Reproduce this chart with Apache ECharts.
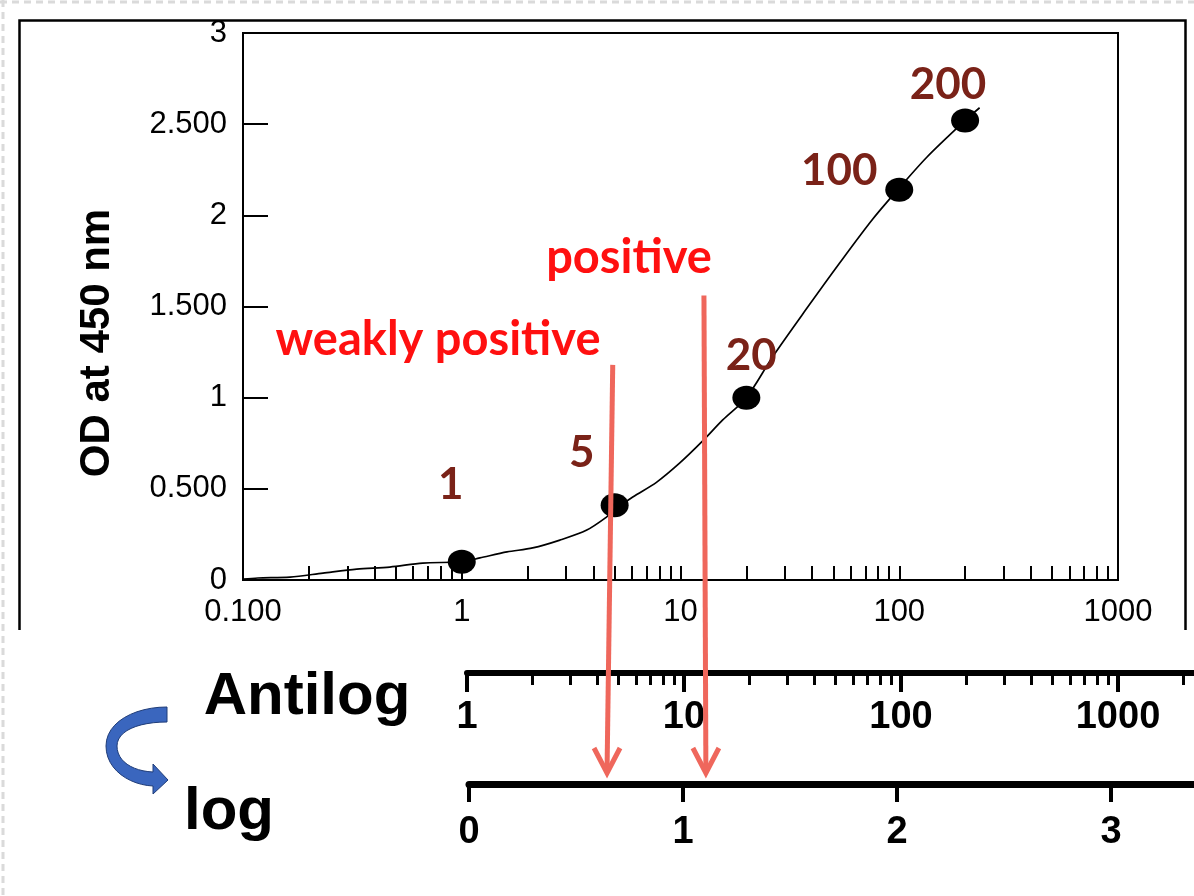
<!DOCTYPE html>
<html>
<head>
<meta charset="utf-8">
<script src="https://cdn.jsdelivr.net/npm/echarts@6/dist/echarts.min.js"></script>
<style>
  html, body { margin: 0; padding: 0; background: #fff; }
  #chart { width: 1194px; height: 896px; }
</style>
</head>
<body>
<div id="chart"></div>
<script>
// Standards: dilution (x) against optical density at 450 nm (y)
const pointDilutions = [1, 5, 20, 100, 200];
const pointOD = [0.1, 0.41, 1.0, 2.14, 2.52];

// Fitted curve through the standards
const curveDilutions = [0.1, 0.117, 0.164, 0.232, 0.331, 0.469, 0.663, 1.0, 1.21, 1.61, 2.11, 2.81, 3.73, 4.6, 5, 6.05, 7.79, 9.93, 12.5, 15.6, 20, 26.4, 37.8, 53.5, 75.7, 100, 134, 200, 233];
const curveOD = [0.005, 0.011, 0.016, 0.038, 0.060, 0.071, 0.093, 0.10, 0.121, 0.154, 0.176, 0.219, 0.274, 0.346, 0.385, 0.455, 0.537, 0.642, 0.757, 0.878, 1.0, 1.225, 1.49, 1.74, 1.98, 2.15, 2.32, 2.52, 2.59];

// Tick labels
const yTickLabels = ['0', '0.500', '1', '1.500', '2', '2.500', '3'];
const xTickLabels = ['0.100', '1', '10', '100', '1000'];
const antilogTickLabels = ['1', '10', '100', '1000', '10000'];
const logTickLabels = ['0', '1', '2', '3', '4'];

// Cut-offs carried down from the curve onto the log scale
const cutoffNames = ['weakly positive', 'positive'];
const cutoffDilutions = [4.9, 12.8];
const cutoffOD = [1.18, 1.56];
const cutoffLogs = [0.645, 1.107];

// Tick positions of a log scale expressed as log10 values
function logTickPositions(decades, multipliers) {
  const out = [];
  decades.forEach(d => multipliers.forEach(m => out.push(Math.log10(d * m))));
  return out;
}
const mainTicks = logTickPositions([0.1, 1, 10, 100], [1, 2, 3, 4, 5, 6, 7, 8, 9]).concat([3]);
const antilogMinorTicks = logTickPositions([1, 10, 100, 1000], [2, 3, 4, 5, 6, 7, 8, 9]);

const labelOffsets = [[-11, -77], [-33, -52], [5, -42], [-60, -19], [-17, -36]];

const AXIS_FONT = 'Liberation Sans, Arial, sans-serif';
const NOTE_FONT = 'Lato, Open Sans, sans-serif';

// Sample a cubic Bezier into points (for the curved blue arrow outline)
function cubic(p0, p1, p2, p3, n) {
  const pts = [];
  for (let k = 0; k <= n; k++) {
    const t = k / n, u = 1 - t;
    pts.push([
      u * u * u * p0[0] + 3 * u * u * t * p1[0] + 3 * u * t * t * p2[0] + t * t * t * p3[0],
      u * u * u * p0[1] + 3 * u * u * t * p1[1] + 3 * u * t * t * p2[1] + t * t * t * p3[1]
    ]);
  }
  return pts;
}
const turnArrowPoints = []
  .concat(cubic([167, 707], [135, 707], [106, 722], [106, 746], 12))
  .concat(cubic([106, 746], [106, 770], [130, 785], [153, 786], 12))
  .concat([[153, 794], [168, 780], [153, 764], [153, 772]])
  .concat(cubic([153, 772], [132, 771], [117, 761], [117, 746], 12))
  .concat(cubic([117, 746], [117, 731], [138, 722], [167, 722], 12));

const chart = echarts.init(document.getElementById('chart'), null, { renderer: 'canvas' });

const noLine = { show: false, onZero: false };

const option = {
  backgroundColor: '#ffffff',
  animation: false,
  grid: [
    { left: 243, top: 33, width: 875, height: 547, show: true, borderColor: '#000', borderWidth: 2, backgroundColor: 'transparent', containLabel: false, outerBoundsMode: 'none' },
    { left: 467, top: 673, width: 868, height: 60, containLabel: false, outerBoundsMode: 'none' },
    { left: 469, top: 784, width: 856, height: 60, containLabel: false, outerBoundsMode: 'none' }
  ],
  xAxis: [
    // data axis of the standard curve
    { type: 'log', logBase: 10, min: 0.1, max: 1000, gridIndex: 0, show: false, axisLine: noLine },
    // ticks and labels of the standard curve, in log10 units
    {
      type: 'value', min: -1, max: 3, interval: 1, gridIndex: 0, position: 'bottom',
      axisLine: { show: true, onZero: false, lineStyle: { color: '#000', width: 2 } },
      axisTick: { show: true, inside: true, length: 14, lineStyle: { color: '#000', width: 2 }, customValues: mainTicks },
      axisLabel: {
        show: true, margin: 17, color: '#000', fontSize: 31, fontFamily: AXIS_FONT,
        formatter: v => xTickLabels[Math.round(v) + 1]
      },
      splitLine: { show: false }
    },
    // Antilog scale
    {
      type: 'log', logBase: 10, min: 1, max: 10000, gridIndex: 1, position: 'top',
      axisLine: { show: true, onZero: false, lineStyle: { color: '#000', width: 6 } },
      axisTick: { show: true, inside: true, length: 19, lineStyle: { color: '#000', width: 4 } },
      axisLabel: {
        show: true, inside: true, margin: 26, color: '#000', fontSize: 38, fontWeight: 'bold', fontFamily: AXIS_FONT,
        formatter: v => antilogTickLabels[Math.round(Math.log10(v))]
      },
      splitLine: { show: false }
    },
    // minor ticks of the Antilog scale
    {
      type: 'value', min: 0, max: 4, gridIndex: 1, position: 'top',
      axisLine: noLine,
      axisTick: { show: true, inside: true, length: 12, lineStyle: { color: '#000', width: 3 }, customValues: antilogMinorTicks },
      axisLabel: { show: false },
      splitLine: { show: false }
    },
    // log scale
    {
      type: 'value', min: 0, max: 4, interval: 1, gridIndex: 2, position: 'top',
      axisLine: { show: true, onZero: false, lineStyle: { color: '#000', width: 7 } },
      axisTick: { show: true, inside: true, length: 18, lineStyle: { color: '#000', width: 4 } },
      axisLabel: {
        show: true, inside: true, margin: 30, color: '#000', fontSize: 38, fontWeight: 'bold', fontFamily: AXIS_FONT,
        formatter: v => logTickLabels[Math.round(v)]
      },
      splitLine: { show: false }
    }
  ],
  yAxis: [
    {
      type: 'value', min: 0, max: 3, interval: 0.5, gridIndex: 0,
      axisLine: { show: true, onZero: false, lineStyle: { color: '#000', width: 2 } },
      axisTick: { show: true, inside: true, length: 25, lineStyle: { color: '#000', width: 2 } },
      axisLabel: {
        show: true, margin: 16, color: '#000', fontSize: 31, fontFamily: AXIS_FONT,
        formatter: v => yTickLabels[Math.round(v * 2)]
      },
      splitLine: { show: false }
    },
    { type: 'value', min: 0, max: 1, gridIndex: 1, show: false, axisLine: noLine },
    { type: 'value', min: 0, max: 1, gridIndex: 2, show: false, inverse: true, axisLine: noLine }
  ],
  series: [
    {
      type: 'line', name: 'fit', xAxisIndex: 0, yAxisIndex: 0,
      data: curveDilutions.map((x, i) => [x, curveOD[i]]),
      smooth: 0.3, showSymbol: false, silent: true,
      lineStyle: { color: '#000', width: 1.7 }, z: 2
    },
    {
      type: 'scatter', name: 'standards', xAxisIndex: 0, yAxisIndex: 0,
      symbol: 'circle', symbolSize: [28, 24],
      itemStyle: { color: '#000', opacity: 1 },
      data: pointDilutions.map((x, i) => ({
        value: [x, pointOD[i]],
        label: { offset: labelOffsets[i] }
      })),
      label: {
        show: true, position: 'inside', color: '#7a2218', opacity: 1,
        fontSize: 44, fontWeight: 'bold', fontFamily: NOTE_FONT,
        formatter: p => String(p.value[0])
      },
      z: 3
    }
  ],
  graphic: [
    { type: 'line', id: 'dashTop', silent: true, shape: { x1: 0, y1: 2, x2: 1194, y2: 2 }, style: { stroke: '#dadada', lineWidth: 3, lineDash: [7, 5] } },
    { type: 'line', id: 'dashLeft', silent: true, shape: { x1: 3, y1: 0, x2: 3, y2: 896 }, style: { stroke: '#dadada', lineWidth: 3, lineDash: [7, 5] } },
    { type: 'polyline', id: 'frame', silent: true, shape: { points: [[19.5, 630], [19.5, 20.5], [1185.5, 20.5], [1185.5, 630]] }, style: { stroke: '#000', lineWidth: 2.5, fill: null } },
    {
      type: 'text', id: 'yTitle', silent: true, x: 97, y: 343, rotation: Math.PI / 2,
      style: { text: 'OD at 450 nm', fill: '#000', font: 'bold 42px ' + AXIS_FONT, textAlign: 'center', textVerticalAlign: 'middle', align: 'center', verticalAlign: 'middle' }
    },
    {
      type: 'polygon', id: 'turnArrow', silent: true,
      shape: { points: turnArrowPoints },
      style: { fill: '#3a66be', stroke: '#1f3c78', lineWidth: 1 }
    },
    { type: 'text', id: 'noteWeak', silent: true, x: 438, y: 340, style: { text: cutoffNames[0], fill: '#ff1010', font: 'bold 47px ' + NOTE_FONT, textAlign: 'center', textVerticalAlign: 'middle', align: 'center', verticalAlign: 'middle' } },
    { type: 'text', id: 'notePos', silent: true, x: 629, y: 258, style: { text: cutoffNames[1], fill: '#ff1010', font: 'bold 47px ' + NOTE_FONT, textAlign: 'center', textVerticalAlign: 'middle', align: 'center', verticalAlign: 'middle' } },
    { type: 'text', id: 'antilogTitle', silent: true, x: 307, y: 697, style: { text: 'Antilog', fill: '#000', font: 'bold 60px ' + AXIS_FONT, textAlign: 'center', textVerticalAlign: 'middle', align: 'center', verticalAlign: 'middle' } },
    { type: 'text', id: 'logTitle', silent: true, x: 229, y: 812, style: { text: 'log', fill: '#000', font: 'bold 60px ' + AXIS_FONT, textAlign: 'center', textVerticalAlign: 'middle', align: 'center', verticalAlign: 'middle' } }
  ]
};

chart.setOption(option);

// Arrows from the curve's cut-offs down to the log scale
const arrowColor = '#ef675c';
const arrowGraphics = [];
cutoffDilutions.forEach((d, i) => {
  const from = chart.convertToPixel({ seriesIndex: 1 }, [d, cutoffOD[i]]);
  const tipX = chart.convertToPixel({ xAxisIndex: 4 }, cutoffLogs[i]);
  const tipY = chart.convertToPixel({ yAxisIndex: 2 }, 0) - 11;
  arrowGraphics.push({
    type: 'line', id: 'cutLine' + i, silent: true, z: 100,
    shape: { x1: from[0], y1: from[1], x2: tipX, y2: tipY - 2 },
    style: { stroke: arrowColor, lineWidth: 5 }
  });
  arrowGraphics.push({
    type: 'polyline', id: 'cutHead' + i, silent: true, z: 100,
    shape: { points: [[tipX - 13, tipY - 25], [tipX, tipY], [tipX + 13, tipY - 25]] },
    style: { stroke: arrowColor, lineWidth: 5, fill: null, lineJoin: 'miter' }
  });
});
chart.setOption({ graphic: arrowGraphics });
</script>
</body>
</html>
